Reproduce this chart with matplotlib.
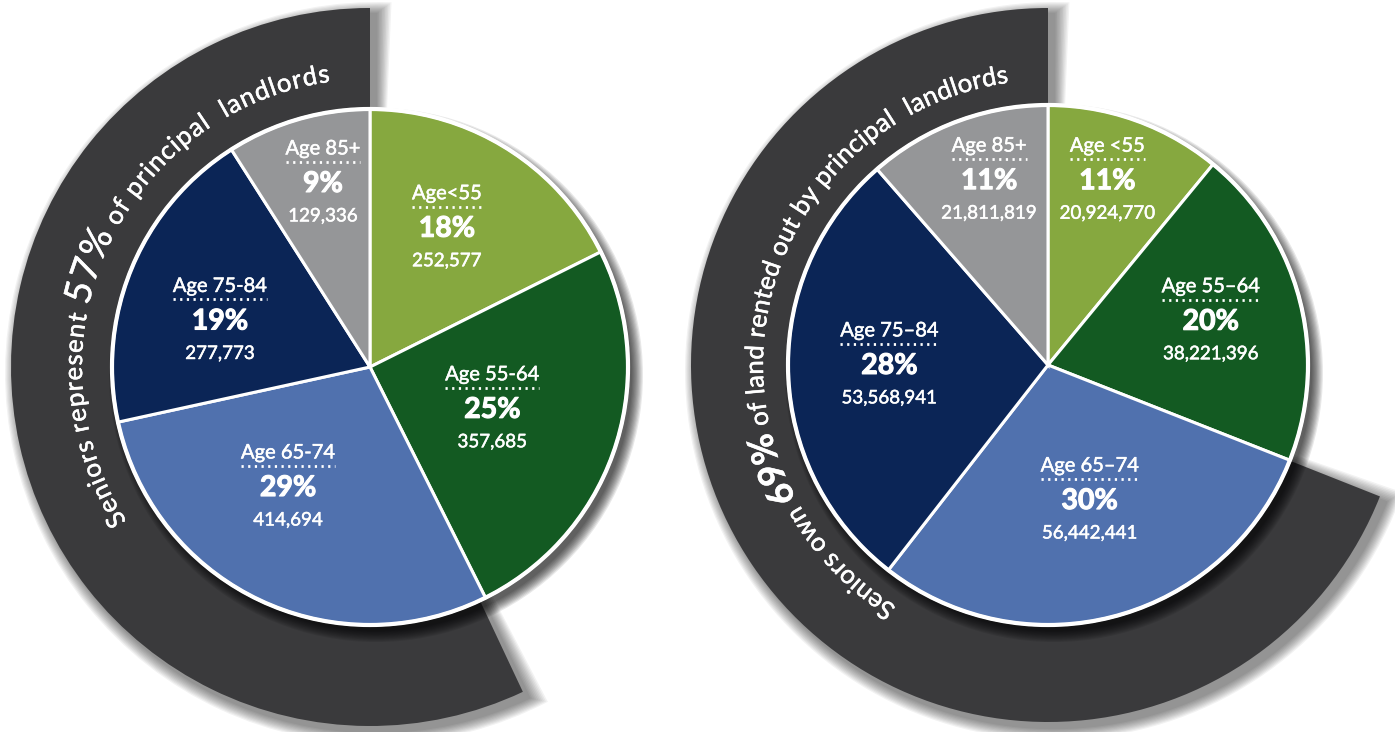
import numpy as np
import matplotlib
matplotlib.use("Agg")
import matplotlib.pyplot as plt
import matplotlib.patheffects as pe
from matplotlib.patches import Wedge, Circle
from matplotlib.textpath import TextToPath
from matplotlib.font_manager import FontProperties

# ---------------- data ----------------
left_labels = ["Age<55", "Age 55-64", "Age 65-74", "Age 75-84", "Age 85+"]
left_counts = [252577, 357685, 414694, 277773, 129336]
left_pcts = ["18%", "25%", "29%", "19%", "9%"]
left_nums = ["252,577", "357,685", "414,694", "277,773", "129,336"]
left_senior_pct = 57
left_title = ["Seniors represent ", "57%", " of principal  landlords"]

right_labels = ["Age <55", "Age 55\u201364", "Age 65\u201374", "Age 75\u201384", "Age 85+"]
right_counts = [20924770, 38221396, 56442441, 53568941, 21811819]
right_pcts = ["11%", "20%", "30%", "28%", "11%"]
right_nums = ["20,924,770", "38,221,396", "56,442,441", "53,568,941", "21,811,819"]
right_senior_pct = 69
right_title = ["Seniors own ", "69%", " of land rented out by principal  landlords"]

colors = ["#86A83F", "#135A22", "#5071AE", "#0B2556", "#959698"]
ARC_COLOR = "#3A3A3C"

# ---------------- layout ----------------
W, H, DPI = 1395, 732, 100
FONT = "Lato"
THICK = [pe.withStroke(linewidth=0.35, foreground="white")]
THICK_B = [pe.withStroke(linewidth=0.8, foreground="white")]

fig = plt.figure(figsize=(W / DPI, H / DPI), dpi=DPI)
ax = fig.add_axes([0, 0, 1, 1])

t2p = TextToPath()


def text_w_px(s, prop):
    w, h, d = t2p.get_text_width_height_descent(s, prop, ismath=False)
    return w * DPI / 72.0


def char_adv(c, prop):
    return text_w_px("H" + c + "H", prop) - text_w_px("HH", prop)


def curved_text(cx, cy, r, phi_start, phi_end, parts, props):
    # phi measured clockwise from 12 o'clock (degrees); first/last glyph centres
    chars = []
    for part, prop in zip(parts, props):
        for c in part:
            chars.append((c, prop, char_adv(c, prop)))
    n = len(chars)
    natural = sum(w for _, _, w in chars) - chars[0][2] / 2 - chars[-1][2] / 2
    L = np.radians(phi_end - phi_start) * r
    extra = (L - natural) / (n - 1)
    s = 0.0
    prev_w = None
    for i, (c, prop, w) in enumerate(chars):
        if i > 0:
            s += prev_w / 2 + w / 2 + extra
        prev_w = w
        phi = np.radians(phi_start) + s / r
        th = np.pi / 2 - phi
        x = cx + r * np.cos(th)
        y = cy + r * np.sin(th)
        ax.text(x, y, c, rotation=np.degrees(th) - 90, rotation_mode="anchor",
                ha="center", va="baseline", color="white", fontproperties=prop,
                zorder=6, path_effects=THICK)


def soft_shadow_wedge(cx, cy, r, t1, t2, width, dx, dy, z):
    n = 10
    for k in range(n):
        grow = (n - k) * 1.2
        ax.add_patch(Wedge((cx + dx, cy + dy), r + grow, t1 - grow * 0.2, t2 + grow * 0.2,
                           width=width + 2 * grow, facecolor="black",
                           edgecolor="none", alpha=0.05, zorder=z))


def soft_shadow_circle(cx, cy, R, dx, dy, z):
    n = 10
    for k in range(n):
        grow = (n - k) * 1.2
        ax.add_patch(Circle((cx + dx, cy + dy), R + grow - 3, facecolor="black",
                            edgecolor="none", alpha=0.09, zorder=z))


def draw_chart(cx_pix, cy_pix, R, r_arc_out, counts, labels, pcts, nums,
               senior_pct, title_parts, fracs, dphis, text_r, text_span, title_sizes):
    cx, cy = cx_pix, H - cy_pix
    # dark senior arc: covers the senior share, counter-clockwise from 12 o'clock
    t1, t2 = 90.0, 90.0 + 360.0 * senior_pct / 100.0
    width = r_arc_out - R + 8
    soft_shadow_wedge(cx, cy, r_arc_out, t1, t2, width, 6, -6, 1)
    ax.add_patch(Wedge((cx, cy), r_arc_out, t1, t2, width=width,
                       facecolor=ARC_COLOR, edgecolor="none", zorder=2))
    soft_shadow_circle(cx, cy, R, 6, -8, 3)

    wedges, _ = ax.pie(counts, colors=colors, startangle=90, counterclock=False,
                       radius=R, center=(cx, cy),
                       wedgeprops=dict(edgecolor="white", linewidth=2.2, zorder=4))
    for wdg in wedges:
        wdg.set_zorder(4)
    ax.add_patch(Circle((cx, cy), R, facecolor="none", edgecolor="white",
                        linewidth=3, zorder=5))

    fp_title = FontProperties(family=FONT, size=14.5)
    fp_pct = FontProperties(family=FONT, size=20.5, weight="bold")
    fp_num = FontProperties(family=FONT, size=13.5)
    for wdg, lab, pc, nm, fr, dp in zip(wedges, labels, pcts, nums, fracs, dphis):
        mid = np.radians((wdg.theta1 + wdg.theta2) / 2 - dp)
        bx = cx + fr * R * np.cos(mid)
        by = cy + fr * R * np.sin(mid)
        ax.text(bx, by + 33, lab, ha="center", va="center", color="white",
                fontproperties=fp_title, zorder=6, path_effects=THICK)
        tw = text_w_px(lab, fp_title)
        ax.plot([bx - tw / 2, bx + tw / 2], [by + 20, by + 20], color="white",
                linestyle=(0, (0.8, 1.6)), linewidth=2.0, zorder=6,
                dash_capstyle="butt")
        ax.text(bx, by - 2, pc, ha="center", va="center", color="white",
                fontproperties=fp_pct, zorder=6, path_effects=THICK_B)
        ax.text(bx, by - 34, nm, ha="center", va="center", color="white",
                fontproperties=fp_num, zorder=6, path_effects=THICK)

    fp_a = FontProperties(family=FONT, size=title_sizes[0])
    fp_b = FontProperties(family=FONT, size=title_sizes[1], weight=title_sizes[2])
    curved_text(cx, cy, text_r, text_span[0], text_span[1], title_parts,
                [fp_a, fp_b, fp_a])


draw_chart(370, 367, 258, 359, left_counts, left_labels, left_pcts, left_nums,
           left_senior_pct, left_title,
           fracs=[0.62, 0.50, 0.56, 0.61, 0.74], dphis=[-3, 0, 9, -5, 2],
           text_r=288, text_span=(239, 351), title_sizes=(18.5, 27, "normal"))
draw_chart(1048, 365, 260, 357, right_counts, right_labels, right_pcts, right_nums,
           right_senior_pct, right_title,
           fracs=[0.75, 0.65, 0.54, 0.61, 0.75], dphis=[-2, -1, -2, 2, 3],
           text_r=285, text_span=(213.5, 351), title_sizes=(18.5, 26, "bold"))

ax.set_xlim(0, W)
ax.set_ylim(0, H)
ax.set_aspect("equal")
ax.axis("off")
fig.savefig("out.png", dpi=DPI, facecolor="white")
